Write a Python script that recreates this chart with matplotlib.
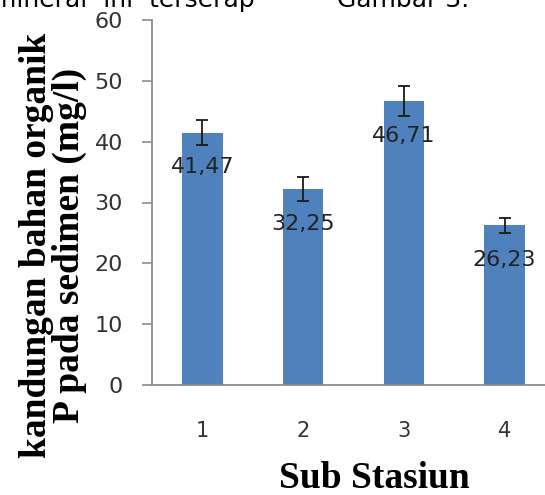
import matplotlib
matplotlib.use("Agg")
from matplotlib import pyplot as plt

# data
stasiun = ["1", "2", "3", "4"]
nilai = [41.47, 32.25, 46.71, 26.23]
galat = [2.1, 2.0, 2.5, 1.3]
label_nilai = ["41,47", "32,25", "46,71", "26,23"]
y_ticks = [0, 10, 20, 30, 40, 50, 60]

W, H = 545, 495
fig = plt.figure(figsize=(W / 100, H / 100), dpi=100)
ax = fig.add_axes([152 / W, 1 - 385 / H, 403 / W, 365 / H])

pos = list(range(len(stasiun)))
ax.bar(pos, nilai, width=0.4, color="#4f81bd", zorder=2)
ax.errorbar(pos, nilai, yerr=galat, fmt="none", ecolor="#1a1a1a",
            elinewidth=1.3, capsize=4, capthick=1.3, zorder=3)

for p, v, t in zip(pos, nilai, label_nilai):
    ax.annotate(t, (p, v), xytext=(0, -25), textcoords="offset points",
                ha="center", va="center", fontsize=16, color="#222222",
                family="DejaVu Sans", zorder=4)

ax.set_xlim(-0.5, 3.5)
ax.set_ylim(0, 60)
ax.set_yticks(y_ticks)
ax.set_xticks(pos)
ax.set_xticklabels(stasiun)

for s in ["top", "right"]:
    ax.spines[s].set_visible(False)
for s in ["left", "bottom"]:
    ax.spines[s].set_color("#8c8c8c")
    ax.spines[s].set_linewidth(1.3)

ax.tick_params(axis="y", length=7, width=1.2, color="#8c8c8c", pad=14,
               labelsize=16, labelcolor="#333333")
ax.tick_params(axis="x", length=0, pad=26, labelsize=15, labelcolor="#333333")

fig.text(53 / W, 1 - 245 / H, "kandungan bahan organik\nP pada sedimen (mg/l)",
         rotation=90, ha="center", va="center", multialignment="center",
         family="Liberation Serif", weight="bold", fontsize=27, linespacing=0.95)
fig.text(374 / W, 1 - 478 / H, "Sub Stasiun", ha="center", va="center",
         family="Liberation Serif", weight="bold", fontsize=27)

# potongan teks dokumen di atas grafik
fig.text(-8 / W, 1 - 7 / H, "mineral  ini  terserap", ha="left", va="baseline",
         fontsize=18, family="DejaVu Sans")
fig.text(337 / W, 1 - 7 / H, "Gambar 3.", ha="left", va="baseline",
         fontsize=18, family="DejaVu Sans")

fig.savefig("out.png", dpi=100)
